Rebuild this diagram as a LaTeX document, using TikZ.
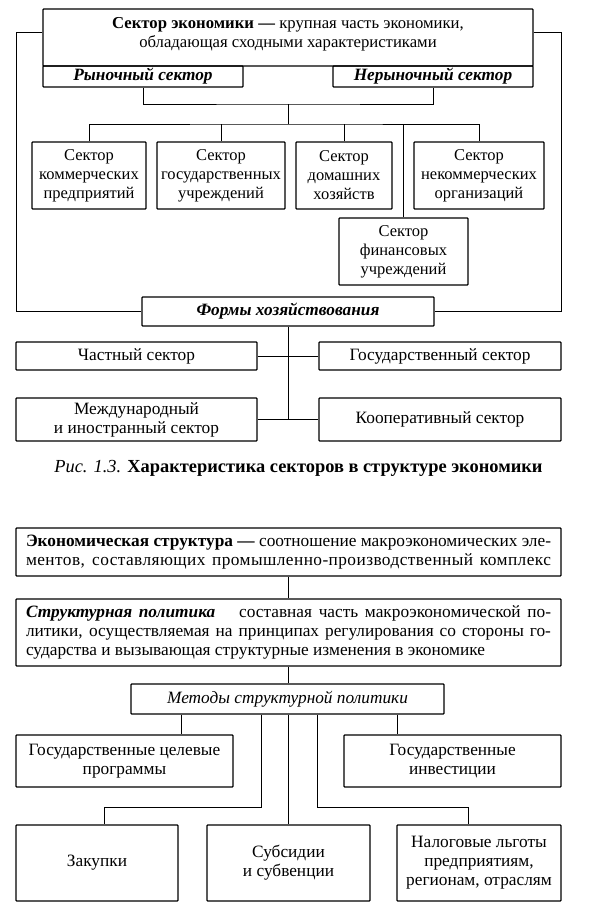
\documentclass[tikz,border=0pt]{standalone}
\usepackage{fontspec}
\setmainfont{Liberation Serif}
\newcommand\bx{\fontsize{17.3}{19}\selectfont}
\newcommand\sx{\fontsize{16.5}{19}\selectfont}
\newcommand\tpf{\fontsize{16.7}{19}\selectfont}
\newcommand\capf{\fontsize{18.4}{21}\selectfont}
\begin{document}
\begin{tikzpicture}[x=1pt,y=-1pt,
  box/.style={draw, line width=1.3pt, rounded corners=0.8pt, inner sep=0pt, align=center, font=\bx},
  sbox/.style={box, font=\sx, minimum height=67pt},
  conn/.style={line width=1pt},
  bi/.style={font=\bx\bfseries\itshape}]
\useasboundingbox (0,0) rectangle (589,908);
% ---------- upper diagram ----------
\node[box, minimum width=490pt, minimum height=57pt] (top) at (288,37.5) {};
\node[font=\tpf, align=center] (toptext) at (288,34) {\textbf{Сектор экономики —} крупная часть экономики,\\обладающая сходными характеристиками};
\node[box, bi, minimum width=200pt, minimum height=21pt] (ryn) at (143,76.5) {Рыночный сектор};
\node[box, bi, minimum width=200pt, minimum height=21pt] (neryn) at (433,76.5) {Нерыночный сектор};
\node[sbox, minimum width=114pt] (b1) at (89,175.5) {Сектор\\коммерческих\\предприятий};
\node[sbox, minimum width=128pt] (b2) at (221,175.5) {Сектор\\государственных\\учреждений};
\node[sbox, minimum width=96pt] (b3) at (344,175.5) {Сектор\\домашних\\хозяйств};
\node[sbox, minimum width=130pt] (b4) at (479,175.5) {Сектор\\некоммерческих\\организаций};
\node[sbox, minimum width=129pt] (fin) at (403.5,251.5) {Сектор\\финансовых\\учреждений};
\node[box, bi, minimum width=292pt, minimum height=29pt] (form) at (288,311.5) {Формы хозяйствования};
\node[box, minimum width=241pt, minimum height=28pt] (ch) at (136.5,356) {Частный сектор};
\node[box, minimum width=242pt, minimum height=28pt] (gos) at (440,356) {Государственный сектор};
\node[box, minimum width=241pt, minimum height=43pt] (mezh) at (136.5,419.5) {Международный\\и иностранный сектор};
\node[box, minimum width=242pt, minimum height=43pt] (koop) at (440,419.5) {Кооперативный сектор};
\node[font=\capf] (cap) at (298.5,468) {\textit{Рис. 1.3.} \textbf{Характеристика секторов в структуре экономики}};
\coordinate (yo) at (0,32);
\coordinate (xL) at (16,0);
\coordinate (xR) at (561,0);
\coordinate (brk) at (288,104);
\coordinate (bus) at (288,124);
\draw[conn] (top.west |- yo) -| (xL |- form.west) -- (form.west);
\draw[conn] (top.east |- yo) -| (xR |- form.east) -- (form.east);
\draw[conn] (ryn.south) |- (brk) -| (neryn.south);
\draw[conn] (brk) -- (bus);
\draw[conn] (b1.north) |- (bus) -| (b4.north);
\draw[conn] (b2.north) -- (b2.north |- bus);
\draw[conn] (b3.north) -- (b3.north |- bus);
\draw[conn] (fin.north) -- (fin.north |- bus);
\draw[conn] (form.south) -- (form.south |- mezh.east);
\draw[conn] (ch.east) -- (gos.west);
\draw[conn] (mezh.east) -- (koop.west);
% ---------- lower diagram ----------
\node[box, align=left, minimum width=545pt, minimum height=48pt] (es) at (288.5,552) {\makebox[525pt][s]{\textbf{Экономическая структура —} соотношение макроэкономических эле-}\\\makebox[525pt][s]{\addfontfeature{LetterSpace=2.5}ментов, составляющих промышленно-производственный комплекс}};
\node[box, align=left, minimum width=545pt, minimum height=67pt] (sp) at (288.5,632.5) {\makebox[525pt][s]{\textbf{\textit{Структурная политика}}\quad\ составная часть макроэкономической по-}\\\makebox[525pt][s]{литики, осуществляемая на принципах регулирования со стороны го-}\\\makebox[525pt][l]{сударства и вызывающая структурные изменения в экономике}};
\node[box, font=\bx\itshape, minimum width=313pt, minimum height=30pt] (met) at (287.5,699) {Методы структурной политики};
\node[box, minimum width=217pt, minimum height=52pt] (gc) at (124.5,761) {Государственные целевые\\программы};
\node[box, minimum width=217pt, minimum height=52pt] (gi) at (452.5,761) {Государственные\\инвестиции};
\node[box, minimum width=162pt, minimum height=76pt] (zak) at (97,863) {Закупки};
\node[box, minimum width=163pt, minimum height=76pt] (sub) at (288.5,863) {Субсидии\\и субвенции};
\node[box, minimum width=164pt, minimum height=76pt] (nal) at (479,863) {Налоговые льготы\\предприятиям,\\регионам, отраслям};
\coordinate (xa) at (181,0);
\coordinate (xb) at (261,0);
\coordinate (xc) at (317,0);
\coordinate (xd) at (397,0);
\coordinate (xe) at (104,0);
\coordinate (xf) at (468,0);
\coordinate (ye) at (0,807);
\draw[conn] (es.south) -- (sp.north);
\draw[conn] (sp.south) -- (sp.south |- met.north);
\draw[conn] (xa |- met.south) -- (xa |- gc.north);
\draw[conn] (xd |- met.south) -- (xd |- gi.north);
\draw[conn] (xb |- met.south) -- (xb |- ye) -| (xe |- zak.north);
\draw[conn] (xc |- met.south) -- (xc |- ye) -| (xf |- nal.north);
\draw[conn] (sub.north |- met.south) -- (sub.north);
\end{tikzpicture}
\end{document}
